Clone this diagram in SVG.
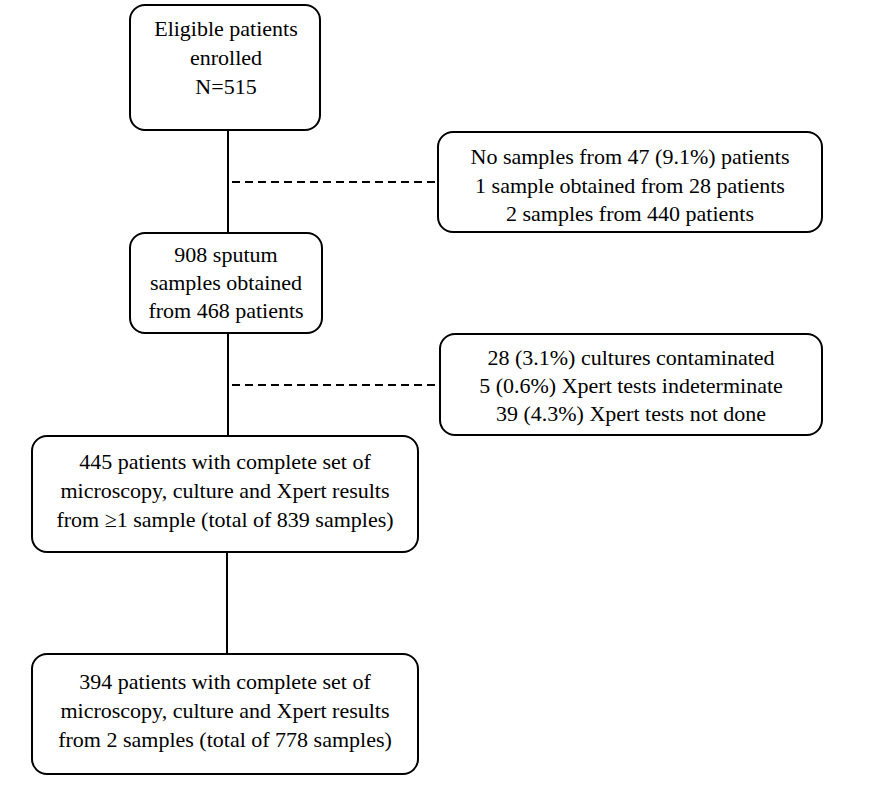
<svg xmlns="http://www.w3.org/2000/svg" width="875" height="800" viewBox="0 0 875 800">
<style>
.b{fill:#fff;stroke:#000;stroke-width:2}
text{font-family:"Liberation Serif",serif;font-size:22px;text-anchor:middle;fill:#000}
.c{stroke:#000;stroke-width:2;fill:none}
.d{stroke:#000;stroke-width:2;fill:none;stroke-dasharray:8,5}
</style>
<rect width="875" height="800" fill="#fff"/>
<g id="connectors">
<line class="c" x1="228" y1="130" x2="228" y2="233"/>
<line class="c" x1="228" y1="333" x2="228" y2="436"/>
<line class="c" x1="227" y1="552" x2="227" y2="654"/>
<line class="d" x1="232" y1="182" x2="438" y2="182"/>
<line class="d" x1="232" y1="385" x2="440" y2="385"/>
</g>
<g id="n1"><rect class="b" x="130" y="5" width="190" height="125" rx="15"/>
<text x="226" y="36">Eligible patients</text><text x="226" y="65">enrolled</text><text x="226" y="94">N=515</text></g>
<g id="n2"><rect class="b" x="438" y="132" width="384" height="100" rx="15"/>
<text x="630" y="164">No samples from 47 (9.1%) patients</text><text x="630" y="193">1 sample obtained from 28 patients</text><text x="630" y="221">2 samples from 440 patients</text></g>
<g id="n3"><rect class="b" x="130" y="233" width="192" height="100" rx="15"/>
<text x="226" y="262">908 sputum</text><text x="226" y="290">samples obtained</text><text x="226" y="318">from 468 patients</text></g>
<g id="n4"><rect class="b" x="440" y="334" width="382" height="101" rx="15"/>
<text x="631" y="365">28 (3.1%) cultures contaminated</text><text x="631" y="393">5 (0.6%) Xpert tests indeterminate</text><text x="631" y="421">39 (4.3%) Xpert tests not done</text></g>
<g id="n5"><rect class="b" x="32" y="436" width="386" height="116" rx="15"/>
<text x="225" y="469">445 patients with complete set of</text><text x="225" y="498">microscopy, culture and Xpert results</text><text x="225" y="527">from ≥1 sample (total of 839 samples)</text></g>
<g id="n6"><rect class="b" x="32" y="654" width="386" height="120" rx="15"/>
<text x="225" y="689">394 patients with complete set of</text><text x="225" y="718">microscopy, culture and Xpert results</text><text x="225" y="747">from 2 samples (total of 778 samples)</text></g>
</svg>
